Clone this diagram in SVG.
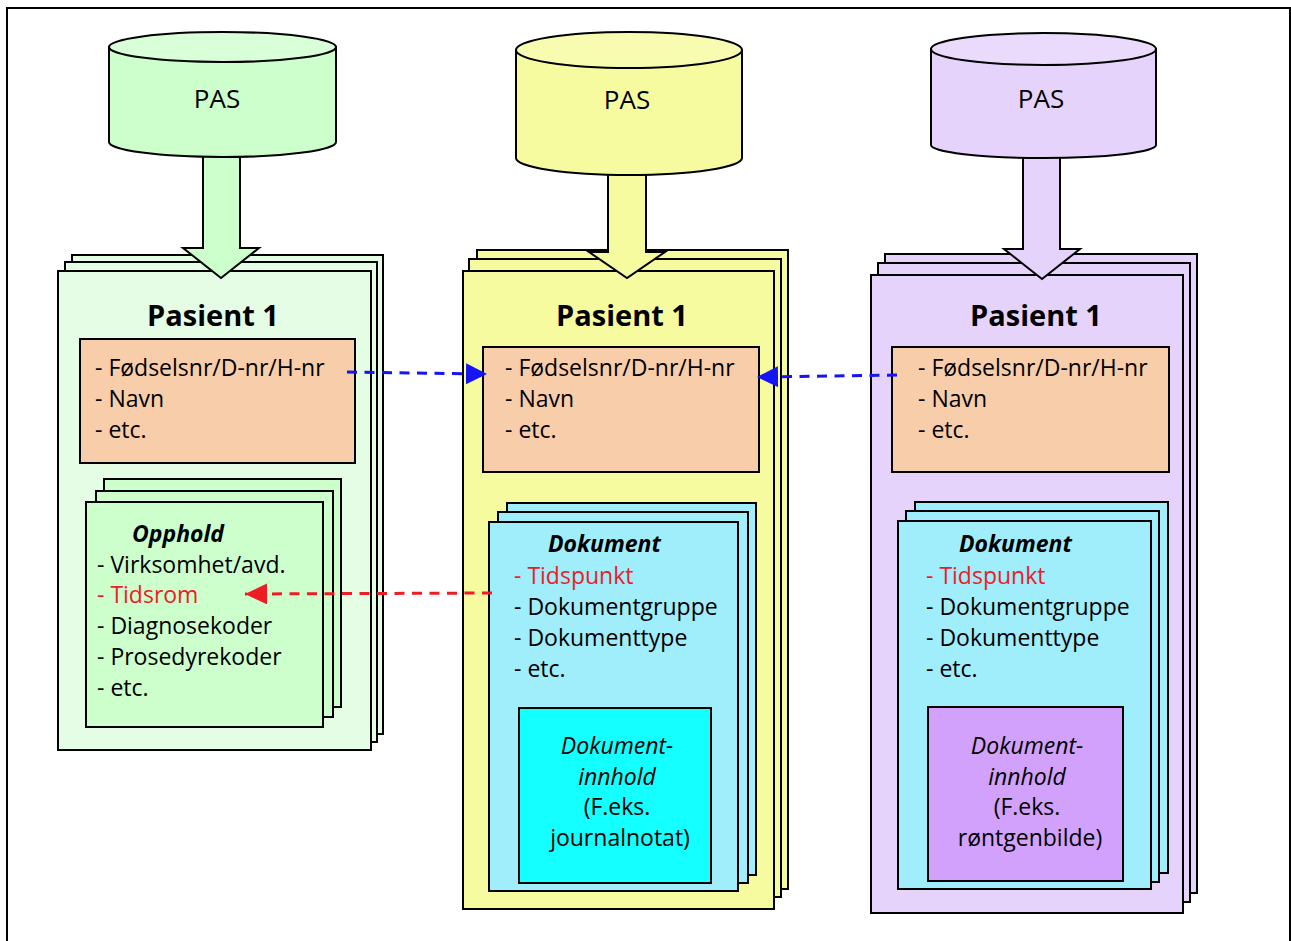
<svg xmlns="http://www.w3.org/2000/svg" width="1291" height="941" viewBox="0 0 1291 941">
  <style>
    .ln { stroke: #000; stroke-width: 2; }
    .txt { font-family: "Open Sans", "Noto Sans", "Liberation Sans", sans-serif; font-size: 23px; fill: #000; }
    .red { fill: #EE1C25; }
    .title { font-family: "Open Sans", "Noto Sans", "Liberation Sans", sans-serif; font-size: 29px; font-weight: bold; text-anchor: middle; }
    .pas { font-family: "Open Sans", "Noto Sans", "Liberation Sans", sans-serif; font-size: 26px; text-anchor: middle; }
    .bi { font-weight: bold; font-style: italic; }
    .ctr { text-anchor: middle; }
    .it { font-style: italic; }
    .peach { fill: #F8CDA9; }
    .green { fill: #CCFFCC; }
    .greenL { fill: #E5FCE5; }
    .yellow { fill: #F7FBA0; }
    .lav { fill: #E6D3FC; }
    .cyanL { fill: #A0EDFC; }
    .dash-b { stroke: #1414F5; stroke-width: 3; stroke-dasharray: 10 7.5; fill: none; }
    .dash-r { stroke: #EE1C25; stroke-width: 3; stroke-dasharray: 10 7.5; fill: none; }
  </style>
  <defs>
    <marker id="headB" markerUnits="userSpaceOnUse" markerWidth="22" markerHeight="22" refX="21" refY="10.5" orient="auto">
      <path d="M0,0 L21,10.5 L0,21 z" fill="#1414F5"/>
    </marker>
    <marker id="headR" markerUnits="userSpaceOnUse" markerWidth="23" markerHeight="22" refX="22" refY="10.5" orient="auto">
      <path d="M0,0 L22,10.5 L0,21 z" fill="#EE1C25"/>
    </marker>
  </defs>

  <!-- outer frame -->
  <rect x="7" y="8" width="1283" height="945" fill="#fff" class="ln"/>

  <!-- left column: patient pages -->
  <g id="pasient-venstre">
    <rect x="72" y="255" width="311" height="479" class="greenL ln"/>
    <rect x="65" y="262" width="312" height="480" class="greenL ln"/>
    <rect x="58" y="271" width="313" height="479" class="greenL ln"/>
    <text x="213" y="326" class="title">Pasient 1</text>
  </g>
  <g id="person-venstre">
    <rect x="80" y="339" width="275" height="124" class="peach ln"/>
    <text class="txt"><tspan x="95" y="376">- Fødselsnr/D-nr/H-nr</tspan><tspan x="95" y="407">- Navn</tspan><tspan x="95" y="438">- etc.</tspan></text>
  </g>
  <g id="opphold">
    <rect x="104" y="479" width="237" height="228" class="green ln"/>
    <rect x="96" y="491" width="237" height="226" class="green ln"/>
    <rect x="86" y="502" width="237" height="225" class="green ln"/>
    <text x="132" y="542" class="txt bi">Opphold</text>
    <text class="txt">
      <tspan x="97" y="573">- Virksomhet/avd.</tspan>
      <tspan x="97" y="603" class="red">- Tidsrom</tspan>
      <tspan x="97" y="634">- Diagnosekoder</tspan>
      <tspan x="97" y="665">- Prosedyrekoder</tspan>
      <tspan x="97" y="696">- etc.</tspan>
    </text>
  </g>

  <!-- middle column: patient pages -->
  <g id="pasient-midt">
    <rect x="477" y="250" width="311" height="639" class="yellow ln"/>
    <rect x="469" y="259" width="312" height="638" class="yellow ln"/>
    <rect x="463" y="271" width="311" height="638" class="yellow ln"/>
    <text x="622" y="326" class="title">Pasient 1</text>
  </g>
  <g id="person-midt">
    <rect x="483" y="347" width="276" height="125" class="peach ln"/>
    <text class="txt"><tspan x="505" y="376">- Fødselsnr/D-nr/H-nr</tspan><tspan x="505" y="407">- Navn</tspan><tspan x="505" y="438">- etc.</tspan></text>
  </g>
  <g id="dokument-midt">
    <rect x="507" y="503" width="249" height="372" class="cyanL ln"/>
    <rect x="498" y="512" width="250" height="371" class="cyanL ln"/>
    <rect x="489" y="522" width="249" height="369" class="cyanL ln"/>
    <text x="548" y="552" class="txt bi">Dokument</text>
    <text class="txt">
      <tspan x="514" y="584" class="red">- Tidspunkt</tspan>
      <tspan x="514" y="615">- Dokumentgruppe</tspan>
      <tspan x="514" y="646">- Dokumenttype</tspan>
      <tspan x="514" y="677">- etc.</tspan>
    </text>
  </g>
  <g id="innhold-midt">
    <rect x="519" y="708" width="192" height="175" fill="#14FFFF" class="ln"/>
    <text class="txt ctr">
      <tspan x="620" y="754" class="it">Dokument-</tspan>
      <tspan x="620" y="785" class="it">innhold</tspan>
      <tspan x="620" y="815">(F.eks.</tspan>
      <tspan x="620" y="846">journalnotat)</tspan>
    </text>
  </g>

  <!-- right column: patient pages -->
  <g id="pasient-hoyre">
    <rect x="885" y="254" width="312" height="639" class="lav ln"/>
    <rect x="878" y="263" width="312" height="639" class="lav ln"/>
    <rect x="871" y="275" width="312" height="638" class="lav ln"/>
    <text x="1036" y="326" class="title">Pasient 1</text>
  </g>
  <g id="person-hoyre">
    <rect x="892" y="347" width="277" height="125" class="peach ln"/>
    <text class="txt"><tspan x="918" y="376">- Fødselsnr/D-nr/H-nr</tspan><tspan x="918" y="407">- Navn</tspan><tspan x="918" y="438">- etc.</tspan></text>
  </g>
  <g id="dokument-hoyre">
    <rect x="915" y="502" width="253" height="371" class="cyanL ln"/>
    <rect x="906" y="511" width="253" height="371" class="cyanL ln"/>
    <rect x="898" y="521" width="253" height="368" class="cyanL ln"/>
    <text x="959" y="552" class="txt bi">Dokument</text>
    <text class="txt">
      <tspan x="926" y="584" class="red">- Tidspunkt</tspan>
      <tspan x="926" y="615">- Dokumentgruppe</tspan>
      <tspan x="926" y="646">- Dokumenttype</tspan>
      <tspan x="926" y="677">- etc.</tspan>
    </text>
  </g>
  <g id="innhold-hoyre">
    <rect x="928" y="707" width="195" height="174" fill="#D1A1FC" class="ln"/>
    <text class="txt ctr">
      <tspan x="1030" y="754" class="it">Dokument-</tspan>
      <tspan x="1030" y="785" class="it">innhold</tspan>
      <tspan x="1030" y="815">(F.eks.</tspan>
      <tspan x="1030" y="846">røntgenbilde)</tspan>
    </text>
  </g>

  <!-- connectors: block arrows from PAS and dashed links -->
  <g id="connectors">
    <polygon points="203,148 240,148 240,248 259,248 221,278 183,248 203,248" class="green ln"/>
    <polygon points="608,165 646,165 646,252 665,252 627,278 589,252 608,252" class="yellow ln"/>
    <polygon points="1023,150 1060,150 1060,249 1080,249 1042,279 1004,249 1023,249" class="lav ln"/>
    <path d="M347,372 L487,374" class="dash-b" marker-end="url(#headB)"/>
    <path d="M897,375 L757,377" class="dash-b" marker-end="url(#headB)"/>
    <path d="M492,593 L245,594" class="dash-r" marker-end="url(#headR)"/>
  </g>

  <!-- PAS databases -->
  <g id="pas-venstre">
    <path d="M109,47 L109,142 A113.5,15 0 0 0 336,142 L336,47 Z" class="green ln"/>
    <ellipse cx="222.5" cy="47" rx="113.5" ry="15" fill="#D8FFD8" class="ln"/>
    <text x="217" y="108" class="pas">PAS</text>
  </g>
  <g id="pas-midt">
    <path d="M516,50 L516,158 A113,17 0 0 0 742,158 L742,50 Z" class="yellow ln"/>
    <ellipse cx="629" cy="50" rx="113" ry="18" fill="#F8FCB0" class="ln"/>
    <text x="627" y="109" class="pas">PAS</text>
  </g>
  <g id="pas-hoyre">
    <path d="M931,49 L931,145 A112.5,13 0 0 0 1156,145 L1156,49 Z" class="lav ln"/>
    <ellipse cx="1043.5" cy="49" rx="112.5" ry="16" fill="#EADAFC" class="ln"/>
    <text x="1041" y="108" class="pas">PAS</text>
  </g>
</svg>
